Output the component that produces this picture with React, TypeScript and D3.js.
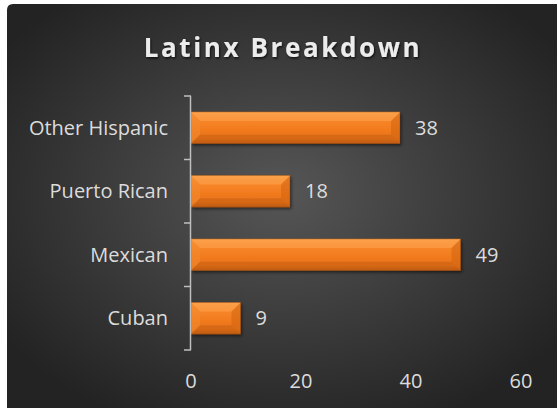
import React from "react";
import * as d3 from "d3";

const categories = ["Other Hispanic", "Puerto Rican", "Mexican", "Cuban"];
const values = [38, 18, 49, 9];
const xTicks = [0, 20, 40, 60];
const title = "Latinx Breakdown";

const W = 558;
const H = 408;

export default function App() {
  const x = d3.scaleLinear().domain([0, 60]).range([191, 521]);
  const y = d3.scaleBand<string>().domain(categories).range([96, 350]).paddingInner(0.5).paddingOuter(0.25);
  const bw = y.bandwidth();
  const boundaries = d3.range(categories.length + 1).map((i) => 96 + i * ((350 - 96) / categories.length));
  const font = "'Open Sans', sans-serif";
  const textColor = "#dcdcdc";

  return (
    <svg width={W} height={H} style={{ position: "absolute", left: 0, top: 0 }}>
      <defs>
        <radialGradient id="bg" cx="0.5" cy="0.47" r="0.62">
          <stop offset="0" stopColor="#565656" />
          <stop offset="1" stopColor="#232323" />
        </radialGradient>
        <linearGradient id="barG" x1="0" y1="0" x2="0" y2="1">
          <stop offset="0" stopColor="#f99a40" />
          <stop offset="0.2" stopColor="#f8892c" />
          <stop offset="0.55" stopColor="#f27b1e" />
          <stop offset="0.85" stopColor="#e8721a" />
          <stop offset="1" stopColor="#c05e14" />
        </linearGradient>
        <filter id="shadow" x="-10%" y="-20%" width="130%" height="160%">
          <feDropShadow dx="1.5" dy="2" stdDeviation="1.8" floodColor="#000" floodOpacity="0.5" />
        </filter>
        <filter id="tshadow" x="-10%" y="-30%" width="120%" height="160%">
          <feDropShadow dx="1" dy="1.5" stdDeviation="1.2" floodColor="#000" floodOpacity="0.7" />
        </filter>
      </defs>
      <path d={`M7,10 Q7,4 13,4 L557,4 L557,408 L7,408 Z`} fill="url(#bg)" />
      <text
        x={283}
        y={57}
        textAnchor="middle"
        fontFamily={font}
        fontWeight={700}
        fontSize={26}
        letterSpacing={2.6}
        fill="#ececec"
        filter="url(#tshadow)"
      >
        {title}
      </text>
      {categories.map((c, i) => {
        const y0 = y(c)!;
        const x0 = x(0);
        const x1 = x(values[i]);
        const b = Math.min(9, (x1 - x0) / 2);
        return (
          <g key={c}>
            <rect x={x0} y={y0} width={x1 - x0} height={bw} fill="url(#barG)" filter="url(#shadow)" />
            <polygon points={`${x0},${y0} ${x0 + b},${y0 + b} ${x0 + b},${y0 + bw - b} ${x0},${y0 + bw}`} fill="#f38a30" opacity={0.55} />
            <polygon points={`${x1},${y0} ${x1 - b},${y0 + b} ${x1 - b},${y0 + bw - b} ${x1},${y0 + bw}`} fill="#d06510" opacity={0.55} />
            <polygon points={`${x0},${y0} ${x1},${y0} ${x1 - b},${y0 + b} ${x0 + b},${y0 + b}`} fill="#fdab58" opacity={0.45} />
            <polygon points={`${x0},${y0 + bw} ${x1},${y0 + bw} ${x1 - b},${y0 + bw - b} ${x0 + b},${y0 + bw - b}`} fill="#b8580f" opacity={0.4} />
            <rect x={x0} y={y0} width={x1 - x0} height={bw} fill="none" stroke="#8a4410" strokeOpacity={0.5} strokeWidth={0.8} />
            <text x={x1 + 15} y={y0 + bw / 2} dy="0.36em" fontFamily={font} fontSize={20} fill={textColor}>
              {values[i]}
            </text>
            <text x={168} y={y0 + bw / 2} dy="0.36em" textAnchor="end" fontFamily={font} fontSize={20} fill={textColor}>
              {c}
            </text>
          </g>
        );
      })}
      <line x1={x(0) - 0.5} x2={x(0) - 0.5} y1={boundaries[0]} y2={boundaries[boundaries.length - 1]} stroke="#bfbfbf" strokeWidth={1.5} />
      {boundaries.map((b, i) => (
        <line key={i} x1={x(0) - 7} x2={x(0)} y1={b} y2={b} stroke="#bfbfbf" strokeWidth={1.5} />
      ))}
      {xTicks.map((t) => (
        <text key={t} x={x(t)} y={381} dy="0.36em" textAnchor="middle" fontFamily={font} fontSize={20} fill={textColor}>
          {t}
        </text>
      ))}
    </svg>
  );
}
